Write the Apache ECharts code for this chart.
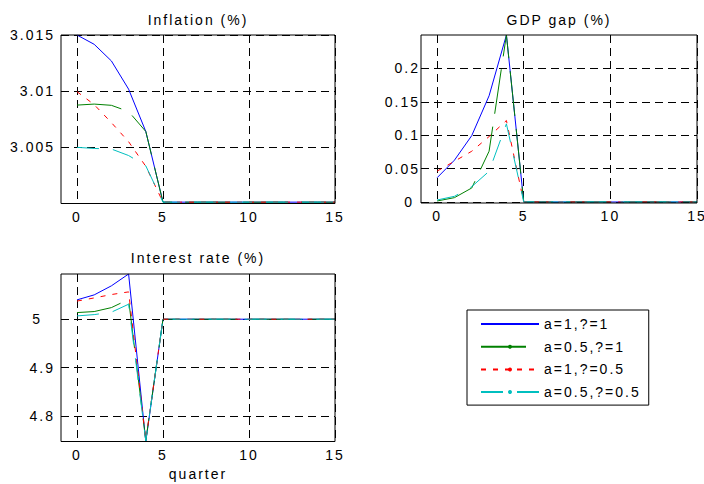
<!DOCTYPE html>
<html>
<head>
<meta charset="utf-8">
<script src="https://cdn.jsdelivr.net/npm/echarts@6/dist/echarts.min.js"></script>
<style>
  html, body { margin: 0; padding: 0; background: #fff; }
  #chart { width: 704px; height: 484px; }
  #chart text { letter-spacing: 2px; }
</style>
</head>
<body>
<div id="chart"></div>
<script>
// Impulse responses over 16 quarters for four policy parameterisations
const quarters = [0, 1, 2, 3, 4, 5, 6, 7, 8, 9, 10, 11, 12, 13, 14, 15];

const seriesNames = ['a=1,?=1', 'a=0.5,?=1', 'a=1,?=0.5', 'a=0.5,?=0.5'];

// Inflation (%)
const inflationA1B1   = [3.015, 3.01417, 3.01269, 3.01018, 3.00641, 3.00012, 3.00012, 3.00012, 3.00012, 3.00012, 3.00012, 3.00012, 3.00012, 3.00012, 3.00012, 3.00012];
const inflationA05B1  = [3.00876, 3.00885, 3.00874, 3.00819, 3.00641, 3.00012, 3.00012, 3.00012, 3.00012, 3.00012, 3.00012, 3.00012, 3.00012, 3.00012, 3.00012, 3.00012];
const inflationA1B05  = [3.00996, 3.0088, 3.0072, 3.0055, 3.00331, 3.00012, 3.00012, 3.00012, 3.00012, 3.00012, 3.00012, 3.00012, 3.00012, 3.00012, 3.00012, 3.00012];
const inflationA05B05 = [3.005, 3.0049, 3.00485, 3.00427, 3.00335, 3.00012, 3.00012, 3.00012, 3.00012, 3.00012, 3.00012, 3.00012, 3.00012, 3.00012, 3.00012, 3.00012];

// GDP gap (%)
const gapA1B1   = [0.0363, 0.0626, 0.0994, 0.159, 0.25, 0, 0, 0, 0, 0, 0, 0, 0, 0, 0, 0];
const gapA05B1  = [0.0015, 0.0065, 0.021, 0.076, 0.25, 0, 0, 0, 0, 0, 0, 0, 0, 0, 0, 0];
const gapA1B05  = [0.0462, 0.061, 0.076, 0.098, 0.122, 0, 0, 0, 0, 0, 0, 0, 0, 0, 0, 0];
const gapA05B05 = [0.003, 0.0085, 0.023, 0.046, 0.117, 0, 0, 0, 0, 0, 0, 0, 0, 0, 0, 0];

// Interest rate (%)
const rateA1B1   = [5.040, 5.0503, 5.069, 5.0935, 4.747, 5, 5, 5, 5, 5, 5, 5, 5, 5, 5, 5];
const rateA05B1  = [5.0137, 5.0158, 5.024, 5.041, 4.749, 5, 5, 5, 5, 5, 5, 5, 5, 5, 5, 5];
const rateA1B05  = [5.0375, 5.044, 5.051, 5.0565, 4.75, 5, 5, 5, 5, 5, 5, 5, 5, 5, 5, 5];
const rateA05B05 = [5.0068, 5.0095, 5.0145, 5.031, 4.748, 5, 5, 5, 5, 5, 5, 5, 5, 5, 5, 5];

// Tick values and their labels
const quarterTicks = [0, 5, 10, 15];
const quarterTickLabels = ['0', '5', '10', '15'];
const inflationTicks = [3.005, 3.01, 3.015];
const inflationTickLabels = ['3.005', '3.01', '3.015'];
const gapTicks = [0, 0.05, 0.1, 0.15, 0.2];
const gapTickLabels = ['0', '0.05', '0.1', '0.15', '0.2'];
const rateTicks = [4.8, 4.9, 5];
const rateTickLabels = ['4.8', '4.9', '5'];

const FONT = 'Liberation Sans, Arial, Helvetica, sans-serif';
const colors = ['#0000ff', '#008000', '#ff0000', '#00bfbf'];
const dashes = ['solid', [45, 13], [5, 7], [22, 14]];

const labelFor = (ticks, labels) => v => {
  const i = ticks.findIndex(t => Math.abs(t - v) < 1e-9);
  return i < 0 ? '' : labels[i];
};

const gridLine = { show: true, lineStyle: { color: '#000', width: 1, type: [8, 5] } };
const textBase = { fontFamily: FONT, fontSize: 14, color: '#000' };

function bottomAxis(gridIndex, extra) {
  return Object.assign({
    type: 'value', gridIndex: gridIndex, position: 'bottom',
    min: -0.93, max: 15,
    axisLine: { show: false },
    axisTick: { show: false, customValues: quarterTicks },
    axisLabel: Object.assign({ customValues: quarterTicks, margin: 6,
      formatter: labelFor(quarterTicks, quarterTickLabels) }, textBase),
    splitLine: gridLine
  }, extra || {});
}

function titleAxis(gridIndex, title, gap) {
  return {
    type: 'value', gridIndex: gridIndex, position: 'top',
    min: -0.93, max: 15,
    axisLine: { show: false }, axisTick: { show: false },
    axisLabel: { show: false }, splitLine: { show: false },
    name: title, nameLocation: 'middle', nameGap: gap,
    nameTextStyle: textBase
  };
}

function leftAxis(gridIndex, min, max, ticks, labels, margin, padRich) {
  return {
    type: 'value', gridIndex: gridIndex, min: min, max: max,
    axisLine: { show: false },
    axisTick: { show: false, customValues: ticks },
    axisLabel: Object.assign({
      customValues: ticks, margin: margin,
      formatter: v => {
        const s = labelFor(ticks, labels)(v);
        return padRich && padRich[s] !== undefined ? '{' + padRich[s] + '|' + s + '}' : s;
      },
      rich: {
        p1: Object.assign({ padding: [0, 6, 0, 0] }, textBase),
        p2: Object.assign({ padding: [0, 13, 0, 0] }, textBase)
      }
    }, textBase),
    splitLine: gridLine
  };
}

const panelData = [
  [inflationA1B1, inflationA05B1, inflationA1B05, inflationA05B05],
  [gapA1B1, gapA05B1, gapA1B05, gapA05B05],
  [rateA1B1, rateA05B1, rateA1B05, rateA05B05]
];

const series = [];
panelData.forEach((group, gi) => {
  group.forEach((vals, si) => {
    series.push({
      type: 'line', name: seriesNames[si],
      xAxisIndex: gi * 2, yAxisIndex: gi,
      data: quarters.map((q, k) => [q, vals[k]]),
      symbol: si === 0 ? 'none' : 'circle', showSymbol: false, symbolSize: 4,
      color: colors[si],
      lineStyle: { color: colors[si], width: 1, type: dashes[si] },
      emphasis: { disabled: true },
      animation: false
    });
  });
});

const chart = echarts.init(document.getElementById('chart'), null, { renderer: 'svg' });
chart.setOption({
  backgroundColor: '#fff',
  animation: false,
  grid: [
    { left: 61, top: 35, width: 274, height: 168.5, show: true, z: 5, backgroundColor: 'transparent', borderColor: '#000', borderWidth: 1, outerBoundsMode: 'none' },
    { left: 421, top: 35, width: 276, height: 168, show: true, z: 5, backgroundColor: 'transparent', borderColor: '#000', borderWidth: 1, outerBoundsMode: 'none' },
    { left: 61, top: 274, width: 274, height: 167.5, show: true, z: 5, backgroundColor: 'transparent', borderColor: '#000', borderWidth: 1, outerBoundsMode: 'none' }
  ],
  xAxis: [
    bottomAxis(0), titleAxis(0, 'Inflation (%)', 8),
    bottomAxis(1), titleAxis(1, 'GDP gap (%)', 8),
    bottomAxis(2, { name: 'quarter', nameLocation: 'middle', nameGap: 25, nameTextStyle: textBase }),
    titleAxis(2, 'Interest rate (%)', 9)
  ],
  yAxis: [
    leftAxis(0, 3.0, 3.015, inflationTicks, inflationTickLabels, 6),
    leftAxis(1, -0.0015, 0.25, gapTicks, gapTickLabels, 1, { '0': 'p1' }),
    leftAxis(2, 4.747, 5.0935, rateTicks, rateTickLabels, 6, { '5': 'p2' })
  ],
  legend: {
    orient: 'vertical', left: 467, top: 310,
    padding: [6, 30, 5, 13],
    itemWidth: 58, itemHeight: 5, itemGap: 6.7,
    borderColor: '#000', borderWidth: 1,
    selectedMode: false,
    textStyle: Object.assign({ lineHeight: 16 }, textBase),
    data: seriesNames.map((n, i) => i === 0 ? { name: n, itemStyle: { opacity: 0 } } : { name: n })
  },
  series: series
});
</script>
</body>
</html>
